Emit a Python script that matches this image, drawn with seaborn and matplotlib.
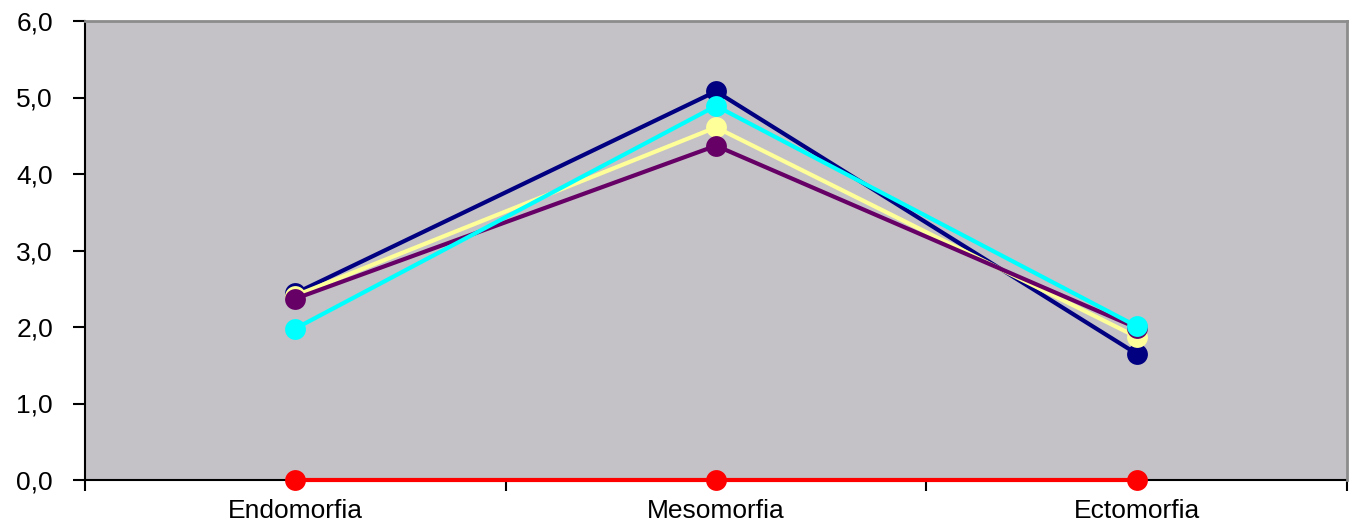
import matplotlib
matplotlib.use("Agg")
import matplotlib.pyplot as plt
import seaborn as sns
import pandas as pd
from matplotlib.ticker import FixedLocator, FuncFormatter

categories = ["Endomorfia", "Mesomorfia", "Ectomorfia"]
series_names = ["S_navy", "S_purple", "S_yellow", "S_cyan", "S_red"]
navy_vals = [2.44, 5.08, 1.65]
purple_vals = [2.37, 4.37, 1.99]
yellow_vals = [2.41, 4.61, 1.87]
cyan_vals = [1.98, 4.89, 2.01]
red_vals = [0.0, 0.0, 0.0]
colors = ["#000080", "#660066", "#FFFF99", "#00FFFF", "#FF0000"]
y_ticks = [0, 1, 2, 3, 4, 5, 6]

all_vals = [navy_vals, purple_vals, yellow_vals, cyan_vals, red_vals]
rows = []
for name, vals in zip(series_names, all_vals):
    for i, (c, v) in enumerate(zip(categories, vals)):
        rows.append({"pos": i, "cat": c, "serie": name, "valor": v})
df = pd.DataFrame(rows)

sns.set_theme(style="white")
plt.rcParams["font.family"] = ["Liberation Sans", "DejaVu Sans"]

fig = plt.figure(figsize=(13.56, 5.27), dpi=100)
ax = fig.add_axes([85 / 1356, 47 / 527, (1347 - 85) / 1356, (480 - 21) / 527])
ax.set_facecolor("#C4C2C6")

order = ["S_navy", "S_yellow", "S_purple", "S_cyan", "S_red"]
pal = dict(zip(series_names, colors))
sns.lineplot(data=df, x="pos", y="valor", hue="serie", hue_order=order,
             palette=pal, marker="o", markersize=15, markeredgewidth=0,
             linewidth=3, sort=False, legend=False, ax=ax, zorder=3)
for ln in ax.get_lines():
    ln.set_clip_on(False)

ax.set_xlim(-0.5, 2.5)
ax.set_ylim(0, 6)
ax.set_xlabel("")
ax.set_ylabel("")

ax.yaxis.set_major_locator(FixedLocator(y_ticks))
ax.yaxis.set_major_formatter(FuncFormatter(lambda v, p: f"{v:.1f}".replace(".", ",")))
ax.set_xticks(range(len(categories)))
ax.set_xticklabels(categories)
ax.set_xticks([-0.5, 0.5, 1.5, 2.5], minor=True)
ax.tick_params(axis="x", which="major", length=0, pad=14, labelsize=19, colors="black")
ax.tick_params(axis="x", which="minor", length=8, width=1.5, color="black", direction="out")
ax.tick_params(axis="y", which="major", length=9, width=1.5, color="black",
               direction="out", labelsize=19, pad=14, colors="black")
ax.tick_params(axis="both", which="both", bottom=True, left=True)

for s in ["left", "bottom"]:
    ax.spines[s].set_color("black")
    ax.spines[s].set_linewidth(1.5)
    ax.spines[s].set_zorder(2)
for s in ["top", "right"]:
    ax.spines[s].set_color("#8C8C8C")
    ax.spines[s].set_linewidth(2)
for s in ax.spines.values():
    s.set_visible(True)

fig.savefig("out.png", dpi=100, facecolor="white")
